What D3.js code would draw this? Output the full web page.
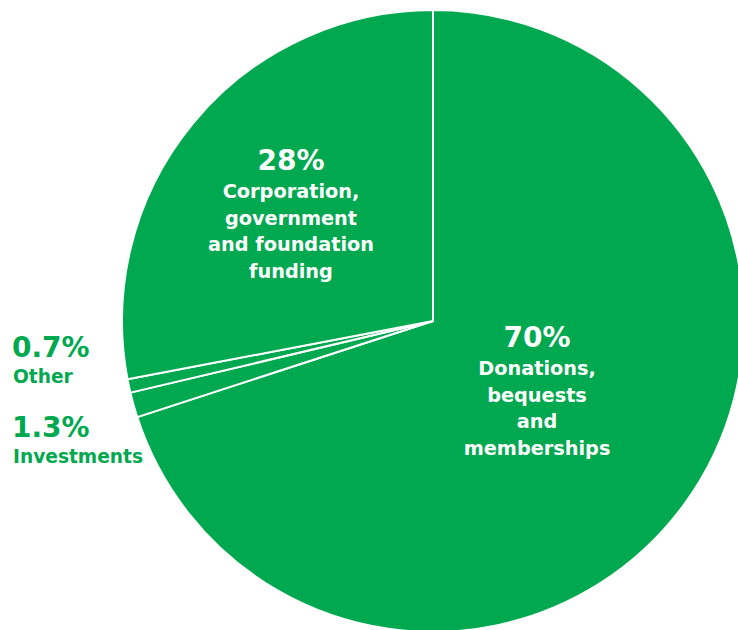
<!DOCTYPE HTML>
<html>
<head>
<meta charset="utf-8">
<title>Income sources</title>
<script src="https://cdn.jsdelivr.net/npm/d3@7"></script>
<style>
  body { margin: 0; background: #fff; }
  text { font-family: "DejaVu Sans", sans-serif; font-weight: bold; }
</style>
</head>
<body>
<script type="text/javascript">
// slice values, clockwise from 12 o'clock
var categories = ["Donations, bequests and memberships", "Investments", "Other", "Corporation, government and foundation funding"];
var shares = [70, 1.3, 0.7, 28];
var pctLabels = ["70%", "1.3%", "0.7%", "28%"];
var nameLines = [["Donations,", "bequests", "and", "memberships"], ["Investments"], ["Other"], ["Corporation,", "government", "and foundation", "funding"]];

var green = "#00a84f";
var width = 738, height = 630;
var cx = 433, cy = 321, radius = 311;

var svg = d3.select("body").append("svg")
  .attr("width", width)
  .attr("height", height);

var pie = d3.pie().sort(null).value(function(d){ return d; });
var arc = d3.arc().innerRadius(0).outerRadius(radius);
var arcs = pie(shares);

var g = svg.append("g").attr("transform", "translate(" + cx + "," + cy + ")");

g.selectAll("path")
  .data(arcs)
  .enter()
  .append("path")
  .attr("d", arc)
  .attr("fill", green)
  .attr("stroke", "#fff")
  .attr("stroke-width", 2)
  .attr("stroke-linejoin", "round");

// labels inside the two big slices
var inside = [
  {i: 0, x: 537, y: 347},
  {i: 3, x: 291, y: 170}
];
inside.forEach(function(p){
  var t = svg.append("text")
    .attr("text-anchor", "middle")
    .attr("fill", "#fff");
  t.append("tspan").attr("x", p.x).attr("y", p.y)
    .style("font-size", "28px")
    .text(pctLabels[p.i]);
  nameLines[p.i].forEach(function(line, k){
    t.append("tspan").attr("x", p.x).attr("y", p.y + 28 + k * 26.5)
      .style("font-size", "19.3px")
      .text(line);
  });
});

// small slices, labelled outside on the left
var outside = [
  {i: 2, x: 12, y: 357},
  {i: 1, x: 12, y: 437}
];
outside.forEach(function(p){
  var t = svg.append("text")
    .attr("text-anchor", "start")
    .attr("fill", green);
  t.append("tspan").attr("x", p.x).attr("y", p.y)
    .style("font-size", "28px")
    .text(pctLabels[p.i]);
  t.append("tspan").attr("x", p.x + 1).attr("y", p.y + 26)
    .style("font-size", "18.6px")
    .text(nameLines[p.i][0]);
});
</script>
</body>
</html>
